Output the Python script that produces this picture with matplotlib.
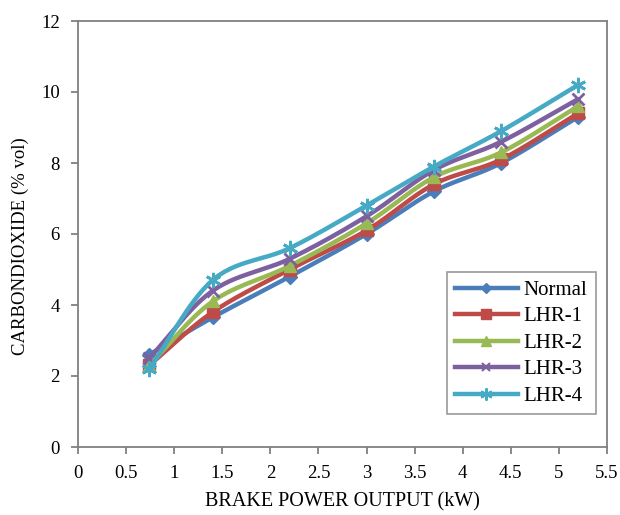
import numpy as np
import matplotlib.pyplot as plt

plt.rcParams['font.family'] = ['Liberation Serif', 'DejaVu Serif']

# brake power output (kW)
power = [0.74, 1.4, 2.2, 3.0, 3.7, 4.4, 5.2]
# CO2 (% vol)
normal = [2.6, 3.65, 4.8, 6.0, 7.2, 8.0, 9.3]
lhr1 = [2.3, 3.8, 5.0, 6.1, 7.4, 8.1, 9.4]
lhr2 = [2.3, 4.1, 5.1, 6.3, 7.6, 8.3, 9.6]
lhr3 = [2.5, 4.4, 5.3, 6.5, 7.8, 8.6, 9.8]
lhr4 = [2.2, 4.7, 5.6, 6.8, 7.9, 8.9, 10.2]

series = [
    ('Normal', normal, '#4A7EBB', 'D', 7),
    ('LHR-1', lhr1, '#BE4B48', 's', 9),
    ('LHR-2', lhr2, '#98B954', '^', 9),
    ('LHR-3', lhr3, '#7D60A0', 'x', 8),
    ('LHR-4', lhr4, '#46AAC5', (6, 2, 0), 11),
]


def smooth(x, y, n=30):
    # catmull-rom through the points, like excel's smoothed line
    x = np.asarray(x, float)
    y = np.asarray(y, float)
    px = np.concatenate([[2 * x[0] - x[1]], x, [2 * x[-1] - x[-2]]])
    py = np.concatenate([[2 * y[0] - y[1]], y, [2 * y[-1] - y[-2]]])
    xs, ys = [], []
    t = np.linspace(0, 1, n)
    for i in range(1, len(px) - 2):
        for arr, out in ((px, xs), (py, ys)):
            p0, p1, p2, p3 = arr[i - 1:i + 3]
            out.append(0.5 * (2 * p1 + (-p0 + p2) * t
                              + (2 * p0 - 5 * p1 + 4 * p2 - p3) * t ** 2
                              + (-p0 + 3 * p1 - 3 * p2 + p3) * t ** 3))
    return np.concatenate(xs), np.concatenate(ys)


fig = plt.figure(figsize=(6.2, 5.15), dpi=100)
ax = fig.add_axes([78 / 620, 68 / 515, 529 / 620, 426 / 515])

for name, vals, col, mk, ms in series:
    sx, sy = smooth(power, vals)
    ax.plot(sx, sy, color=col, lw=3.2, solid_capstyle='round')
    ax.plot(power, vals, ls='none', marker=mk, ms=ms, color=col,
            mec=col, mew=2 if mk in ('x', (6, 2, 0)) else 1)
    ax.plot([], [], color=col, lw=3.2, marker=mk, ms=ms * 0.8, mec=col,
            mew=1.5 if mk in ('x', (6, 2, 0)) else 1, label=name)

ax.set_xlim(0, 5.5)
ax.set_ylim(0, 12)
ax.set_xticks(np.arange(0, 5.51, 0.5))
ax.set_xticklabels(['0', '0.5', '1', '1.5', '2', '2.5', '3', '3.5', '4', '4.5', '5', '5.5'])
ax.set_yticks(range(0, 13, 2))
for s in ax.spines.values():
    s.set_color('#808080')
    s.set_linewidth(1.3)
ax.tick_params(colors='#808080', labelcolor='black', labelsize=13.5, length=5, width=1.3, pad=8)
ax.set_xlabel('BRAKE POWER OUTPUT (kW)', fontsize=14.5, labelpad=7)
ax.set_ylabel('CARBONDIOXIDE (% vol)', fontsize=13.5)
ax.yaxis.set_label_coords(-0.092, 0.472)

leg = ax.legend(loc='lower right', bbox_to_anchor=(0.979, 0.077), fontsize=15,
                frameon=True, fancybox=False, handlelength=3.0, borderpad=0.4,
                labelspacing=0.33, handletextpad=0.3, borderaxespad=0)
leg.get_frame().set_edgecolor('#808080')
leg.get_frame().set_linewidth(1.2)

fig.savefig('out.png', dpi=100)
